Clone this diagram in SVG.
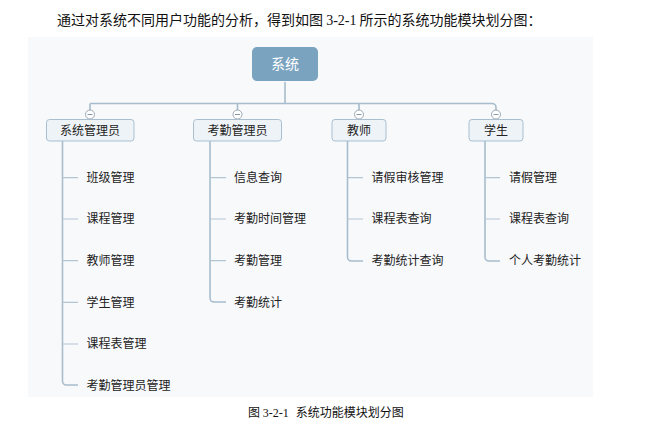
<svg xmlns="http://www.w3.org/2000/svg" width="662" height="429" viewBox="0 0 662 429">
<style>
.t{font-family:"Noto Sans CJK SC","Noto Sans",sans-serif;font-size:12px;fill:#222}
.n{font-family:"Liberation Serif",serif}
.bx{fill:#eef3f7;stroke:#a9bfd0;stroke-width:1}
.ln{fill:none;stroke:#a7bccc;stroke-width:1.6}
.br{fill:none;stroke:#b3c5d3;stroke-width:1.2}
.cc{fill:#ffffff;stroke:#9aa8b4;stroke-width:1}
.cm{stroke:#8a98a4;stroke-width:1}
</style>
<rect width="662" height="429" fill="#ffffff"/>
<text x="57" y="25" class="t" style="font-size:14px;fill:#111">通过对系统不同用户功能的分析，得到如图 <tspan class="n">3-2-1</tspan> 所示的系统功能模块划分图：</text>
<rect x="28" y="37" width="565" height="360" fill="#f8f9fb"/>
<g id="connectors">
<path class="ln" d="M285 82V103.5M90 103.5H492a4 4 0 0 1 4 4V110M90 103.5V110M237.5 103.5V110M359 103.5V110"/>
<path class="ln" d="M62.5 141V381a4 4 0 0 0 4 4H78"/>
<path class="br" d="M62.5 177.7H78M62.5 219H78M62.5 260.7H78M62.5 302.3H78M62.5 344H78"/>
<path class="ln" d="M210 141V298a4 4 0 0 0 4 4H226"/>
<path class="br" d="M210 177.7H226M210 219H226M210 260.7H226"/>
<path class="ln" d="M347.5 141V257a4 4 0 0 0 4 4H363"/>
<path class="br" d="M347.5 177.7H363M347.5 219H363"/>
<path class="ln" d="M485 141V257a4 4 0 0 0 4 4H500"/>
<path class="br" d="M485 177.7H500M485 219H500"/>
<g id="collapse">
<circle class="cc" cx="90" cy="114.5" r="4.5"/><path class="cm" d="M87.5 114.5H92.5"/>
<circle class="cc" cx="237.5" cy="114.5" r="4.5"/><path class="cm" d="M235 114.5H240"/>
<circle class="cc" cx="359" cy="114.5" r="4.5"/><path class="cm" d="M356.5 114.5H361.5"/>
<circle class="cc" cx="496" cy="114.5" r="4.5"/><path class="cm" d="M493.5 114.5H498.5"/>
</g>
</g>
<g id="root">
<rect x="252" y="47" width="66" height="34" rx="5" fill="#7aa3bf"/>
<text x="285" y="69" class="t" text-anchor="middle" style="font-size:14px;fill:#ffffff">系统</text>
</g>
<g id="sysadmin">
<rect class="bx" x="46.5" y="119.5" width="87.5" height="21.5" rx="3"/>
<text x="90" y="135" class="t" text-anchor="middle">系统管理员</text>
</g>
<g id="attadmin">
<rect class="bx" x="193.5" y="119.5" width="88" height="21.5" rx="3"/>
<text x="237.5" y="135" class="t" text-anchor="middle">考勤管理员</text>
</g>
<g id="teacher">
<rect class="bx" x="332" y="119.5" width="54" height="21.5" rx="3"/>
<text x="359" y="135" class="t" text-anchor="middle">教师</text>
</g>
<g id="student">
<rect class="bx" x="469" y="119.5" width="54" height="21.5" rx="3"/>
<text x="496" y="135" class="t" text-anchor="middle">学生</text>
</g>
<g id="sysadmin-items">
<text x="86.5" y="182" class="t">班级管理</text>
<text x="86.5" y="223.3" class="t">课程管理</text>
<text x="86.5" y="265" class="t">教师管理</text>
<text x="86.5" y="306.6" class="t">学生管理</text>
<text x="86.5" y="348.3" class="t">课程表管理</text>
<text x="86.5" y="390" class="t">考勤管理员管理</text>
</g>
<g id="attadmin-items">
<text x="234" y="182" class="t">信息查询</text>
<text x="234" y="223.3" class="t">考勤时间管理</text>
<text x="234" y="265" class="t">考勤管理</text>
<text x="234" y="306.6" class="t">考勤统计</text>
</g>
<g id="teacher-items">
<text x="371.5" y="182" class="t">请假审核管理</text>
<text x="371.5" y="223.3" class="t">课程表查询</text>
<text x="371.5" y="265" class="t">考勤统计查询</text>
</g>
<g id="student-items">
<text x="509" y="182" class="t">请假管理</text>
<text x="509" y="223.3" class="t">课程表查询</text>
<text x="509" y="265" class="t">个人考勤统计</text>
</g>
<text x="248" y="417" class="t" style="fill:#111">图 <tspan class="n">3-2-1</tspan><tspan dx="7">系统功能模块划分图</tspan></text>
</svg>
